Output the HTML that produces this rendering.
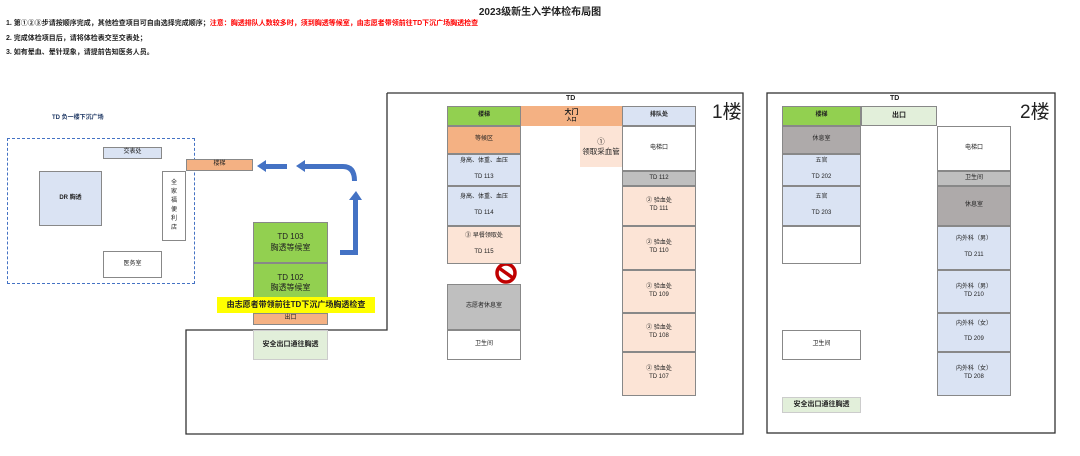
<!DOCTYPE html>
<html><head><meta charset="utf-8"><style>
body{margin:0;width:1080px;height:456px;background:#fff;position:relative;overflow:hidden;font-family:"Liberation Sans","Noto Sans CJK SC",sans-serif;color:#222}
.a{position:absolute;box-sizing:border-box;display:flex;flex-direction:column;align-items:center;justify-content:center;text-align:center;font-size:6px;line-height:1.3}
.b{border:1px solid #888}
.o{background:#f4b183}.g{background:#92d050}.bl{background:#dae3f3}.p{background:#fce4d6}.gr{background:#bfbfbf}.lg{background:#e2efda}
.t{position:absolute;font-size:7px;font-weight:bold;white-space:nowrap}
</style></head><body>
<div class="t" style="left:0;width:1080px;top:3px;text-align:center;font-size:10px">2023级新生入学体检布局图</div>
<div class="t" style="left:6px;top:18px">1. 第①②③步请按顺序完成，其他检查项目可自由选择完成顺序；<span style="color:#f00">注意：胸透排队人数较多时，须到胸透等候室，由志愿者带领前往TD下沉广场胸透检查</span></div>
<div class="t" style="left:6px;top:33px">2. 完成体检项目后，请将体检表交至交表处；</div>
<div class="t" style="left:6px;top:47px">3. 如有晕血、晕针现象，请提前告知医务人员。</div>

<div class="t" style="left:52px;top:112px;font-size:6px;color:#1f3864">TD 负一楼下沉广场</div>
<div class="a" style="left:7px;top:138px;width:188px;height:146px;border:1px dashed #4472c4"></div>
<div class="a b bl" style="left:103px;top:147px;width:59px;height:12px">交表处</div>
<div class="a b bl" style="left:39px;top:171px;width:63px;height:55px;font-weight:bold">DR 胸透</div>
<div class="a b" style="left:162px;top:171px;width:24px;height:70px;background:#fff;line-height:1.5">全<br>家<br>福<br>便<br>利<br>店</div>
<div class="a b" style="left:103px;top:251px;width:59px;height:27px;background:#fff">医务室</div>
<div class="a b o" style="left:186px;top:159px;width:67px;height:12px">楼梯</div>

<svg style="position:absolute;left:0;top:0" width="1080" height="456">
<g fill="#4472c4" stroke="none">
<polygon points="257,166 266,160 266,164 287,164 287,169 266,169 266,172"/>
<polygon points="296,166 305,160 305,164 343,164 343,169 305,169 305,172"/>
<path d="M343,164 Q357,164 357,181 L352,181 Q352,169 343,169 Z"/>
<polygon points="356,191 362,200 358,200 358,255 340,255 340,250 353,250 353,200 349,200"/>
</g>
<circle cx="506" cy="273" r="9" fill="#fff" stroke="#c00000" stroke-width="3.5"/>
<line x1="499" y1="268" x2="513" y2="278" stroke="#c00000" stroke-width="3.5"/>
<polyline points="387,93 743,93 743,434 186,434 186,330 387,330 387,93" fill="none" stroke="#333" stroke-width="1.3"/>
<rect x="767" y="93" width="288" height="340" fill="none" stroke="#333" stroke-width="1.3"/>
</svg>

<div class="a b g" style="left:253px;top:222px;width:75px;height:41px;font-size:8px">TD 103<br>胸透等候室</div>
<div class="a b g" style="left:253px;top:263px;width:75px;height:40px;font-size:8px">TD 102<br>胸透等候室</div>
<div class="a" style="left:217px;top:297px;width:158px;height:16px;background:#ff0;font-size:8px;font-weight:bold">由志愿者带领前往TD下沉广场胸透检查</div>
<div class="a b o" style="left:253px;top:313px;width:75px;height:12px">出口</div>
<div class="a lg" style="left:253px;top:330px;width:75px;height:30px;font-weight:bold;font-size:7px;border:1px solid #ccc">安全出口通往胸透</div>

<div class="t" style="left:566px;top:95px">TD</div>
<div class="a b g" style="left:447px;top:106px;width:74px;height:20px;font-weight:bold">楼梯</div>
<div class="a o" style="left:521px;top:106px;width:101px;height:20px;font-weight:bold;font-size:7px">大门<span style="font-size:5px">入口</span></div>
<div class="a b bl" style="left:622px;top:106px;width:74px;height:20px;font-weight:bold">排队处</div>
<div class="a b o" style="left:447px;top:126px;width:74px;height:28px">等候区</div>
<div class="a b bl" style="left:447px;top:154px;width:74px;height:32px">身高、体重、血压<br><br>TD 113</div>
<div class="a b bl" style="left:447px;top:186px;width:74px;height:40px">身高、体重、血压<br><br>TD 114</div>
<div class="a b p" style="left:447px;top:226px;width:74px;height:38px">③ 早餐领取处<br><br>TD 115</div>
<div class="a b gr" style="left:447px;top:284px;width:74px;height:46px">志愿者休息室</div>
<div class="a b" style="left:447px;top:330px;width:74px;height:30px;background:#fff">卫生间</div>
<div class="a p" style="left:580px;top:126px;width:42px;height:41px;font-size:7.5px">①<br>领取采血管</div>
<div class="a b" style="left:622px;top:126px;width:74px;height:45px;background:#fff">电梯口</div>
<div class="a b gr" style="left:622px;top:171px;width:74px;height:15px">TD 112</div>
<div class="a b p" style="left:622px;top:186px;width:74px;height:40px">② 验血处<br>TD 111</div>
<div class="a b p" style="left:622px;top:226px;width:74px;height:44px">② 验血处<br>TD 110</div>
<div class="a b p" style="left:622px;top:270px;width:74px;height:43px">② 验血处<br>TD 109</div>
<div class="a b p" style="left:622px;top:313px;width:74px;height:39px">② 验血处<br>TD 108</div>
<div class="a b p" style="left:622px;top:352px;width:74px;height:44px">② 验血处<br>TD 107</div>
<div class="t" style="left:712px;top:97px;font-size:19px;font-weight:normal">1楼</div>

<div class="t" style="left:890px;top:95px">TD</div>
<div class="a b g" style="left:782px;top:106px;width:79px;height:20px;font-weight:bold">楼梯</div>
<div class="a b lg" style="left:861px;top:106px;width:76px;height:20px;font-weight:bold;font-size:7px">出口</div>
<div class="a b" style="left:782px;top:126px;width:79px;height:28px;background:#aeaaaa">休息室</div>
<div class="a b bl" style="left:782px;top:154px;width:79px;height:32px">五官<br><br>TD 202</div>
<div class="a b bl" style="left:782px;top:186px;width:79px;height:40px">五官<br><br>TD 203</div>
<div class="a b" style="left:782px;top:226px;width:79px;height:38px;background:#fff"></div>
<div class="a b" style="left:782px;top:330px;width:79px;height:30px;background:#fff">卫生间</div>
<div class="a lg" style="left:782px;top:397px;width:79px;height:16px;font-weight:bold;font-size:7px;border:1px solid #ccc">安全出口通往胸透</div>
<div class="a b" style="left:937px;top:126px;width:74px;height:45px;background:#fff">电梯口</div>
<div class="a b gr" style="left:937px;top:171px;width:74px;height:15px">卫生间</div>
<div class="a b" style="left:937px;top:186px;width:74px;height:40px;background:#aeaaaa">休息室</div>
<div class="a b bl" style="left:937px;top:226px;width:74px;height:44px">内外科（男）<br><br>TD 211</div>
<div class="a b bl" style="left:937px;top:270px;width:74px;height:43px">内外科（男）<br>TD 210</div>
<div class="a b bl" style="left:937px;top:313px;width:74px;height:39px">内外科（女）<br><br>TD 209</div>
<div class="a b bl" style="left:937px;top:352px;width:74px;height:44px">内外科（女）<br>TD 208</div>
<div class="t" style="left:1020px;top:97px;font-size:19px;font-weight:normal">2楼</div>
</body></html>
